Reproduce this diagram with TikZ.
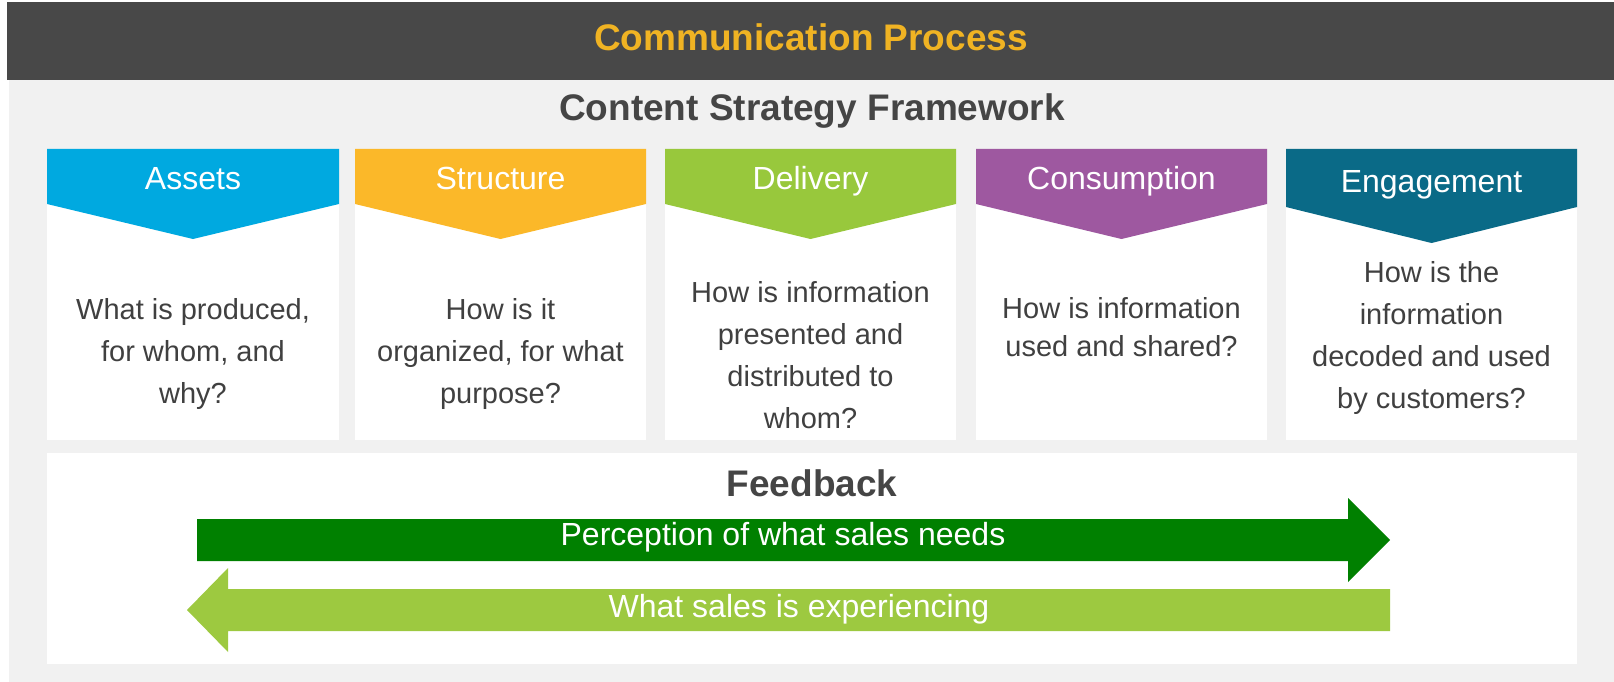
\documentclass[tikz,border=0pt]{standalone}
\usepackage{fontspec}
\setmainfont{Liberation Sans}
\definecolor{headbar}{HTML}{484848}
\definecolor{panel}{HTML}{F1F1F1}
\definecolor{gold}{HTML}{F0B323}
\definecolor{heading}{HTML}{454545}
\definecolor{bodygray}{HTML}{404040}
\definecolor{assetsblue}{HTML}{00A9E0}
\definecolor{structorange}{HTML}{FBB829}
\definecolor{deliverygreen}{HTML}{98C83C}
\definecolor{consumpurple}{HTML}{9E58A0}
\definecolor{engageteal}{HTML}{0A6A87}
\definecolor{darkarrow}{HTML}{008000}
\definecolor{lightarrow}{HTML}{9DC940}
\begin{document}
\begin{tikzpicture}[x=1pt,y=-1pt,
  bigbold/.style={font=\fontsize{37}{44}\selectfont\bfseries, anchor=base, inner sep=0pt},
  headtext/.style={font=\fontsize{32}{38}\selectfont, text=white, anchor=base, inner sep=0pt},
  % multi-line nodes: the base anchor sits on the last line's baseline
  bodytext/.style={font=\fontsize{29}{42}\selectfont, text=bodygray, align=center, anchor=base, inner sep=0pt},
  tightbody/.style={bodytext, font=\fontsize{29}{38}\selectfont},
  arrowtext/.style={font=\fontsize{32}{38}\selectfont, text=white, anchor=base, inner sep=0pt}]

\useasboundingbox (0,0) rectangle (1614,682);
\fill[white] (0,0) rectangle (1614,682);

% title bar and panel
\fill[headbar] (7,2) rectangle (1614,80);
\fill[panel] (9,80) rectangle (1614,682);
\node[bigbold, text=gold] (title) at (811,50.5) {Communication Process};
\node[bigbold, text=heading] (framework) at (812,121) {Content Strategy Framework};

% Assets
\fill[white] (47,149) rectangle (339,440);
\fill[assetsblue] (47,149) -- (339,149) -- (339,204) -- (193,239) -- (47,204) -- cycle;
\node[headtext] (assets) at (193,189.5) {Assets};
\node[bodytext] (assetsq) at (193,403) {What is produced,\\for whom, and\\why?};

% Structure
\fill[white] (355,149) rectangle (646,440);
\fill[structorange] (355,149) -- (646,149) -- (646,204) -- (500.5,239) -- (355,204) -- cycle;
\node[headtext] (structure) at (500.5,189.5) {Structure};
\node[bodytext] (structureq) at (500.5,403) {How is it\\organized, for what\\purpose?};

% Delivery
\fill[white] (665,149) rectangle (956,440);
\fill[deliverygreen] (665,149) -- (956,149) -- (956,204) -- (810.5,239) -- (665,204) -- cycle;
\node[headtext] (delivery) at (810.5,189.5) {Delivery};
\node[bodytext] (deliveryq) at (810.5,428) {How is information\\presented and\\distributed to\\whom?};

% Consumption
\fill[white] (976,149) rectangle (1267,440);
\fill[consumpurple] (976,149) -- (1267,149) -- (1267,204) -- (1121.5,239) -- (976,204) -- cycle;
\node[headtext] (consumption) at (1121.5,189.5) {Consumption};
\node[tightbody] (consumptionq) at (1121.5,356) {How is information\\used and shared?};

% Engagement
\fill[white] (1286,149) rectangle (1577,440);
\fill[engageteal] (1286,149) -- (1577,149) -- (1577,207) -- (1431.5,243) -- (1286,207) -- cycle;
\node[headtext] (engagement) at (1431.5,192.5) {Engagement};
\node[bodytext] (engagementq) at (1431.5,408) {How is the\\information\\decoded and used\\by customers?};

% Feedback panel
\fill[white] (47,453) rectangle (1577,664);
\node[bigbold, text=heading] (feedback) at (812,496) {Feedback};

\fill[darkarrow] (197,519) -- (1348,519) -- (1348,498) -- (1390,540)
  -- (1348,582) -- (1348,561) -- (197,561) -- cycle;
\node[arrowtext] (needs) at (783,545.5) {Perception of what sales needs};

\fill[lightarrow] (1390,589) -- (228,589) -- (228,568) -- (187,610)
  -- (228,652) -- (228,631) -- (1390,631) -- cycle;
\node[arrowtext] (experience) at (799,617) {What sales is experiencing};
\end{tikzpicture}
\end{document}
